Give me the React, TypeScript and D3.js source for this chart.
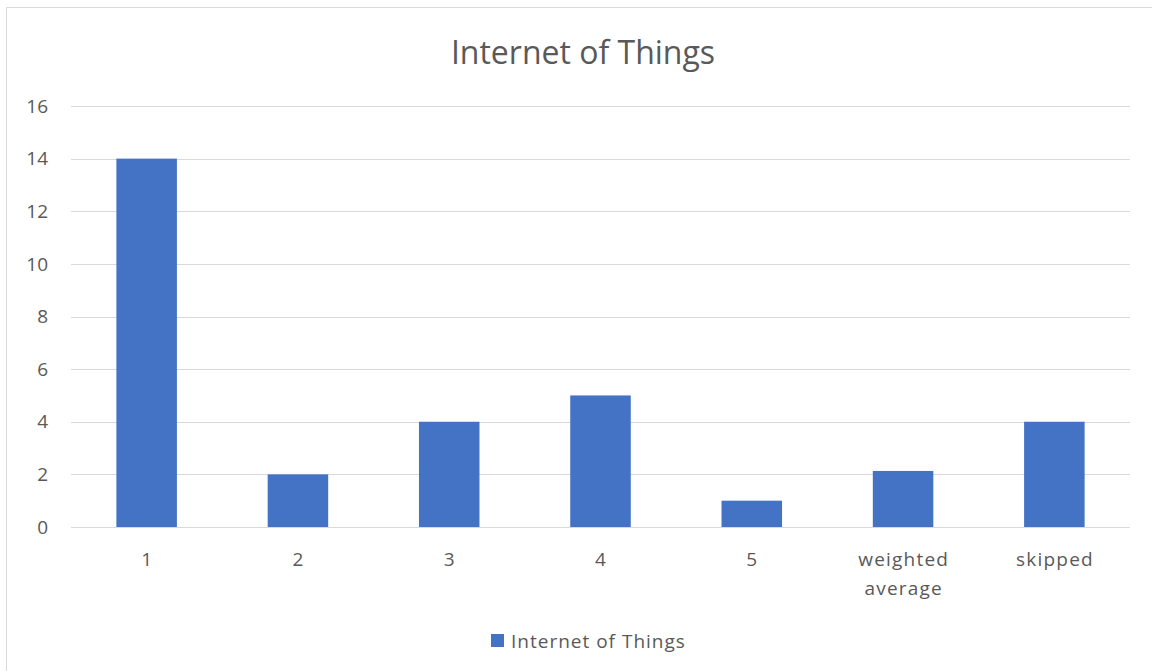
import React, { useEffect, useRef } from "react";
import * as d3 from "d3";

const categories: string[][] = [["1"], ["2"], ["3"], ["4"], ["5"], ["weighted", "average"], ["skipped"]];
const values: number[] = [14, 2, 4, 5, 1, 2.13, 4];
const yTicks: number[] = [0, 2, 4, 6, 8, 10, 12, 14, 16];
const seriesName = "Internet of Things";
const title = "Internet of Things";

const W = 1152;
const H = 671;
const FONT = "'Open Sans', 'Liberation Sans', sans-serif";
const TEXT = "#595959";

export default function App() {
  const ref = useRef<SVGSVGElement>(null);

  useEffect(() => {
    const svg = d3.select(ref.current);
    svg.selectAll("*").remove();

    const left = 71, right = 1130, top = 106, bottom = 527;

    // chart frame
    svg.append("rect")
      .attr("x", 6.5).attr("y", 7.5)
      .attr("width", W + 20).attr("height", H + 20)
      .attr("fill", "#fff").attr("stroke", "#d9d9d9").attr("stroke-width", 1);

    const keys = categories.map((_, i) => String(i));
    const x = d3.scaleBand<string>().domain(keys).range([left, right]).paddingInner(0.6).paddingOuter(0.3);
    const y = d3.scaleLinear().domain([0, 16]).range([bottom, top]);

    // gridlines
    svg.append("g").selectAll("line").data(yTicks).join("line")
      .attr("x1", left).attr("x2", right)
      .attr("y1", d => Math.round(y(d)) + 0.5).attr("y2", d => Math.round(y(d)) + 0.5)
      .attr("stroke", "#d9d9d9").attr("stroke-width", 1);

    // y labels
    svg.append("g").selectAll("text").data(yTicks).join("text")
      .attr("x", 48).attr("y", d => y(d)).attr("dy", "0.35em")
      .attr("text-anchor", "end")
      .attr("font-family", FONT).attr("font-size", 19).attr("fill", TEXT)
      .text(d => String(d));

    // bars
    svg.append("g").selectAll("rect").data(values).join("rect")
      .attr("x", (_, i) => x(keys[i])!)
      .attr("width", x.bandwidth())
      .attr("y", d => y(d))
      .attr("height", d => y(0) - y(d))
      .attr("fill", "#4472c4");

    // x labels
    const xl = svg.append("g").selectAll("text").data(categories).join("text")
      .attr("y", 566)
      .attr("text-anchor", "middle")
      .attr("letter-spacing", 1.2)
      .attr("font-family", FONT).attr("font-size", 19).attr("fill", TEXT);
    xl.each(function (lines, i) {
      const t = d3.select(this);
      lines.forEach((ln, j) => {
        t.append("tspan")
          .attr("x", x(keys[i])! + x.bandwidth() / 2 + 0.6)
          .attr("dy", j === 0 ? 0 : 29)
          .text(ln);
      });
    });

    // title
    svg.append("text")
      .attr("x", 583).attr("y", 64)
      .attr("text-anchor", "middle")
      .attr("font-family", FONT).attr("font-size", 32).attr("fill", TEXT)
      .text(title);

    // legend
    svg.append("rect").attr("x", 491).attr("y", 634).attr("width", 13).attr("height", 13).attr("fill", "#4472c4");
    svg.append("text")
      .attr("x", 511).attr("y", 648)
      .attr("letter-spacing", 1)
      .attr("font-family", FONT).attr("font-size", 19).attr("fill", TEXT)
      .text(seriesName);
  }, []);

  return (
    <svg ref={ref} width={W} height={H}
      style={{ position: "absolute", left: 0, top: 0, display: "block", background: "#fff" }} />
  );
}
